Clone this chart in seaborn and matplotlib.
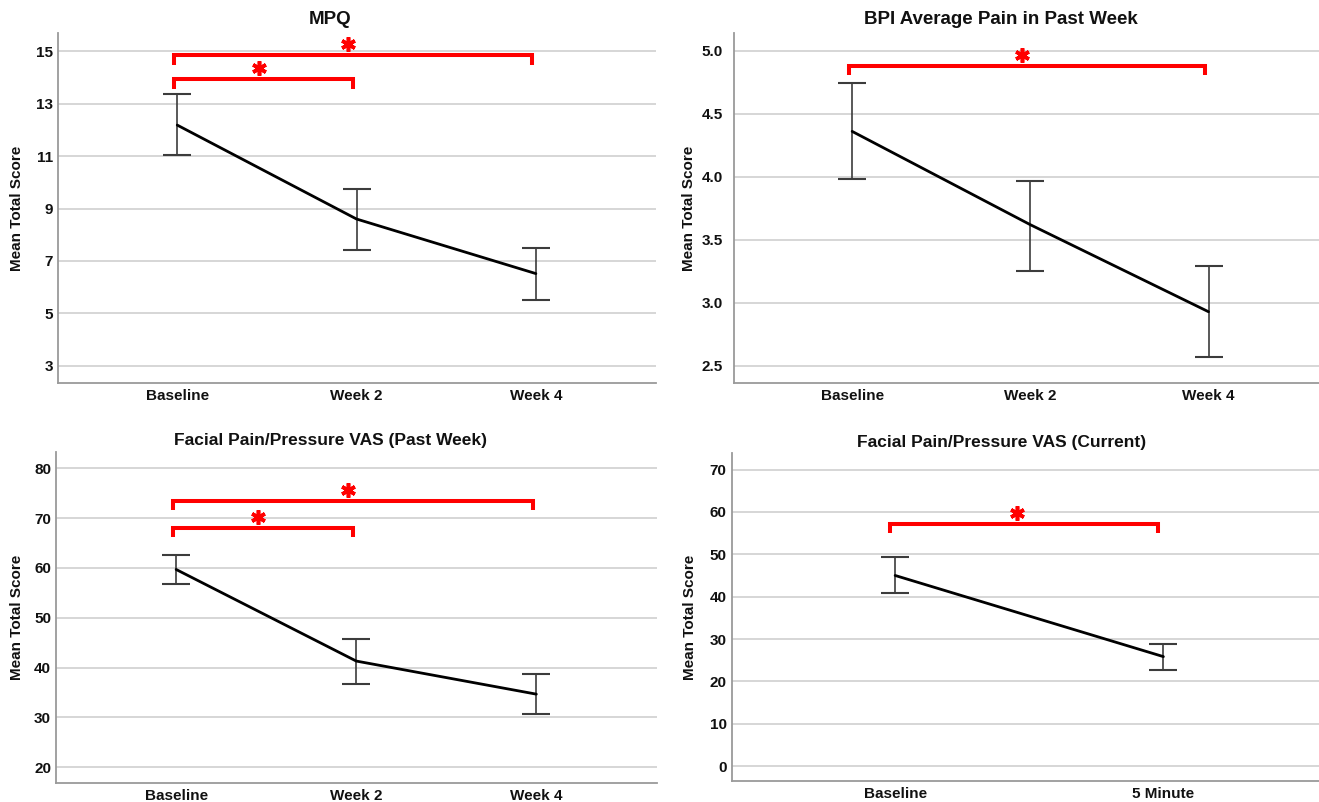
import numpy as np
import pandas as pd
import matplotlib
matplotlib.use("Agg")
import matplotlib.pyplot as plt
import seaborn as sns
from matplotlib.transforms import offset_copy

# ---------------- data ----------------
mpq_labels = ["Baseline", "Week 2", "Week 4"]
mpq_mean = [12.18, 8.60, 6.52]
mpq_low = [11.03, 7.43, 5.51]
mpq_high = [13.35, 9.76, 7.50]
mpq_yticks = [3, 5, 7, 9, 11, 13, 15]
mpq_sig = [(0, 2, 14.85), (0, 1, 13.93)]

bpi_labels = ["Baseline", "Week 2", "Week 4"]
bpi_mean = [4.36, 3.62, 2.93]
bpi_low = [3.98, 3.25, 2.57]
bpi_high = [4.74, 3.97, 3.29]
bpi_yticks = [2.5, 3.0, 3.5, 4.0, 4.5, 5.0]
bpi_sig = [(0, 2, 4.88)]

vpw_labels = ["Baseline", "Week 2", "Week 4"]
vpw_mean = [59.7, 41.3, 34.65]
vpw_low = [56.8, 36.7, 30.6]
vpw_high = [62.6, 45.65, 38.75]
vpw_yticks = [20, 30, 40, 50, 60, 70, 80]
vpw_sig = [(0, 2, 73.5), (0, 1, 68.1)]

vcur_labels = ["Baseline", "5 Minute"]
vcur_mean = [45.0, 25.85]
vcur_low = [40.8, 22.6]
vcur_high = [49.26, 28.85]
vcur_yticks = [0, 10, 20, 30, 40, 50, 60, 70]
vcur_sig = [(0, 1, 57.2)]

titles = ["MPQ", "BPI Average Pain in Past Week",
          "Facial Pain/Pressure VAS (Past Week)", "Facial Pain/Pressure VAS (Current)"]

# ---------------- style ----------------
sns.set_theme(style="white")
plt.rcParams["font.family"] = ["Liberation Sans", "DejaVu Sans"]
plt.rcParams["font.weight"] = "bold"

W, H = 1319, 802
fig = plt.figure(figsize=(W / 100, H / 100), dpi=100)
fig.patch.set_facecolor("white")

panels = [
    dict(labels=mpq_labels, mean=mpq_mean, low=mpq_low, high=mpq_high, yticks=mpq_yticks,
         sig=mpq_sig, box=(58, 33, 656, 383), xlim=(-0.665, 2.67), ylim=(2.35, 15.69),
         ypad=3.5, title_xy=(330, 20), ylab_x=17, tfs=13.5),
    dict(labels=bpi_labels, mean=bpi_mean, low=bpi_low, high=bpi_high, yticks=bpi_yticks,
         sig=bpi_sig, box=(734, 33, 1319, 383), xlim=(-0.663, 2.62), ylim=(2.365, 5.14),
         ypad=8, title_xy=(1001, 20), ylab_x=689, tfs=13.5),
    dict(labels=vpw_labels, mean=vpw_mean, low=vpw_low, high=vpw_high, yticks=vpw_yticks,
         sig=vpw_sig, box=(56, 452, 657, 783), xlim=(-0.667, 2.67), ylim=(16.8, 83.3),
         ypad=3.5, title_xy=(330, 441), ylab_x=17, tfs=12.5),
    dict(labels=vcur_labels, mean=vcur_mean, low=vcur_low, high=vcur_high, yticks=vcur_yticks,
         sig=vcur_sig, box=(731.5, 453, 1319, 781), xlim=(-0.61, 1.58), ylim=(-3.5, 73.9),
         ypad=3.5, title_xy=(1002, 442), ylab_x=690, tfs=12.5),
]

red = "#ff0000"
for i, p in enumerate(panels):
    l, t, r, b = p["box"]
    ax = fig.add_axes([l / W, 1 - b / H, (r - l) / W, (b - t) / H])
    n = len(p["labels"])
    xs = np.arange(n)
    df = pd.DataFrame({"x": xs, "mean": p["mean"]})
    # gridlines
    for yt in p["yticks"]:
        ax.axhline(yt, color="#d6d6d6", lw=1.4, zorder=0)
    sns.lineplot(data=df, x="x", y="mean", ax=ax, color="black", lw=2.0, sort=False,
                 errorbar=None, zorder=3)
    mean = np.array(p["mean"])
    yerr = np.vstack([mean - np.array(p["low"]), np.array(p["high"]) - mean])
    ax.errorbar(xs, mean, yerr=yerr, fmt="none", ecolor="#3c3c3c", elinewidth=1.2,
                capsize=10, capthick=1.5, zorder=2)
    ax.set_xlim(*p["xlim"])
    ax.set_ylim(*p["ylim"])
    ax.set_xticks(xs)
    ax.set_xticklabels(p["labels"], fontsize=11, fontweight="bold")
    ax.set_yticks(p["yticks"])
    ax.set_yticklabels([f"{v:g}" if not isinstance(v, float) else f"{v:.1f}" for v in p["yticks"]],
                       fontsize=11, fontweight="bold")
    ax.tick_params(axis="x", length=0, pad=4.5, colors="#111111")
    ax.tick_params(axis="y", length=0, pad=p["ypad"], colors="#111111")
    ax.set_xlabel("")
    ax.set_ylabel("")
    for s in ["top", "right"]:
        ax.spines[s].set_visible(False)
    for s in ["left", "bottom"]:
        ax.spines[s].set_color("#9a9a9a")
        ax.spines[s].set_linewidth(1.3)
    # significance brackets
    ppu = (b - t) / (p["ylim"][1] - p["ylim"][0])
    drop = 9.5 / ppu
    star_tr = offset_copy(ax.transData, fig=fig, x=0, y=8, units="points")
    for (a0, a1, yb) in p["sig"]:
        x0, x1 = a0 - 0.02, a1 - 0.02
        ax.plot([x0, x0, x1, x1], [yb - drop, yb, yb, yb - drop], color=red, lw=2.9,
                solid_joinstyle="miter", solid_capstyle="butt", zorder=4)
        ax.plot([(a0 + a1) / 2 - 0.045], [yb], marker=(6, 2, 0), ms=10.5, mew=2.6,
                color=red, transform=star_tr, zorder=5, clip_on=False)
    # titles and y labels
    fig.text(p["title_xy"][0] / W, 1 - p["title_xy"][1] / H, titles[i], ha="center",
             va="center", fontsize=p["tfs"], fontweight="bold", color="#111111")
    fig.text(p["ylab_x"] / W, 1 - ((t + b) / 2) / H, "Mean Total Score", rotation=90,
             ha="center", va="center", fontsize=11, fontweight="bold", color="#111111")

fig.savefig("out.png", dpi=100, facecolor="white")
